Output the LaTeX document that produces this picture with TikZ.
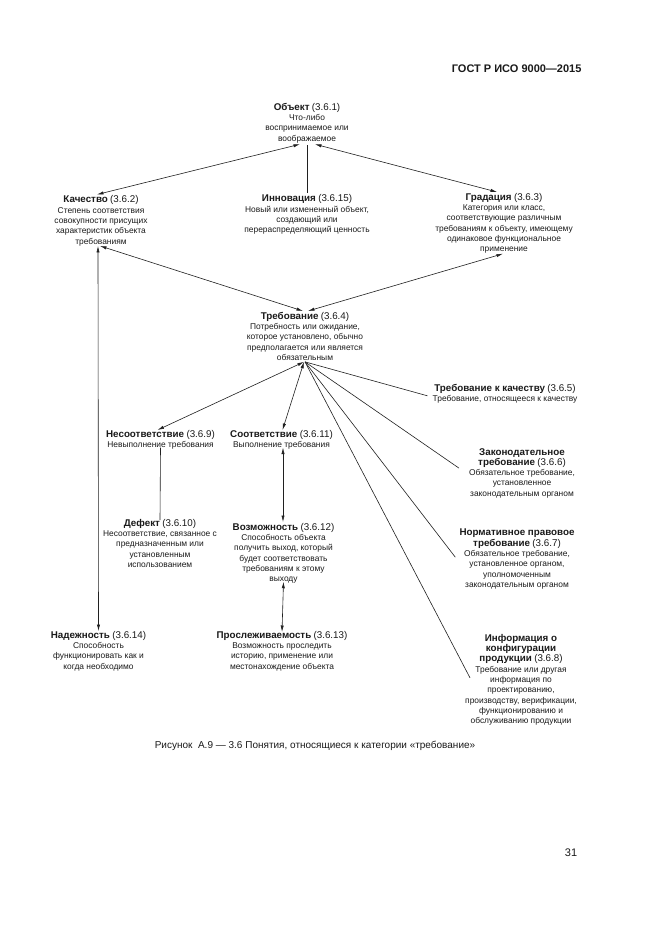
\documentclass[tikz,border=0pt]{standalone}
\usepackage{fontspec}
\setmainfont{Liberation Sans}
\usetikzlibrary{arrows.meta}
\definecolor{txt}{HTML}{1A1A1A}
\definecolor{ln}{HTML}{202020}
\newcommand\ttl[1]{{\fontsize{9.8}{11}\selectfont\bfseries #1}}
\newcommand\nm[1]{{\fontsize{9.8}{11}\selectfont (#1)}}
\tikzset{
  concept/.style={align=center, anchor=north, inner sep=2pt, text=txt,
    font=\fontsize{8.4}{10.3}\selectfont},
  conn/.style={draw=ln, line width=0.6pt},
  dbl/.style={conn, {Latex[length=6.5pt,width=3.2pt]}-{Latex[length=6.5pt,width=3.2pt]}},
}
\begin{document}
\begin{tikzpicture}[x=1pt,y=-1pt]
\useasboundingbox[fill=white] (0,0) rectangle (661,935);

\node[anchor=base east, text=txt, font=\fontsize{11}{13}\selectfont\bfseries] (hdr) at (585,72) {ГОСТ Р ИСО 9000---2015};

\node[concept] (obj) at (307,101) {\ttl{Объект} \nm{3.6.1}\\Что-либо\\воспринимаемое или\\воображаемое};
\node[concept] (kach) at (101,193.5) {\ttl{Качество} \nm{3.6.2}\\Степень соответствия\\совокупности присущих\\характеристик объекта\\требованиям};
\node[concept] (innov) at (307,192.5) {\ttl{Инновация} \nm{3.6.15}\\Новый или измененный объект,\\создающий или\\перераспределяющий ценность};
\node[concept] (grad) at (504,191) {\ttl{Градация} \nm{3.6.3}\\Категория или класс,\\соответствующие различным\\требованиям к объекту, имеющему\\одинаковое функциональное\\применение};
\node[concept] (treb) at (305,310) {\ttl{Требование} \nm{3.6.4}\\Потребность или ожидание,\\которое установлено, обычно\\предполагается или является\\обязательным};
\node[concept] (kk) at (505,382) {\ttl{Требование к качеству} \nm{3.6.5}\\Требование, относящееся к качеству};
\node[concept] (zak) at (522,446) {\ttl{Законодательное}\\\ttl{требование} \nm{3.6.6}\\Обязательное требование,\\установленное\\законодательным органом};
\node[concept] (norm) at (517,527) {\ttl{Нормативное правовое}\\\ttl{требование} \nm{3.6.7}\\Обязательное требование,\\установленное органом,\\уполномоченным\\законодательным органом};
\node[concept] (info) at (521,632) {\ttl{Информация о}\\\ttl{конфигурации}\\\ttl{продукции} \nm{3.6.8}\\Требование или другая\\информация по\\проектированию,\\производству, верификации,\\функционированию и\\обслуживанию продукции};
\node[concept] (nesoot) at (160.5,428) {\ttl{Несоответствие} \nm{3.6.9}\\Невыполнение требования};
\node[concept] (soot) at (281.5,428) {\ttl{Соответствие} \nm{3.6.11}\\Выполнение требования};
\node[concept] (defect) at (160,517) {\ttl{Дефект} \nm{3.6.10}\\Несоответствие, связанное с\\предназначенным или\\установленным\\использованием};
\node[concept] (voz) at (283.5,521) {\ttl{Возможность} \nm{3.6.12}\\Способность объекта\\получить выход, который\\будет соответствовать\\требованиям к этому\\выходу};
\node[concept] (nad) at (98.5,629) {\ttl{Надежность} \nm{3.6.14}\\Способность\\функционировать как и\\когда необходимо};
\node[concept] (prosl) at (282,629) {\ttl{Прослеживаемость} \nm{3.6.13}\\Возможность проследить\\историю, применение или\\местонахождение объекта};

\node[anchor=base, text=txt, font=\fontsize{10}{12}\selectfont] (cap) at (315,748) {Рисунок\ \ А.9 --- 3.6 Понятия, относящиеся к категории «требование»};
\node[anchor=base, text=txt, font=\fontsize{11}{12}\selectfont] (pg) at (571,856) {31};

% connectors
\draw[dbl] ([xshift=-7pt,yshift=1pt]obj.south) -- ([xshift=-4pt,yshift=-1pt]kach.north);
\draw[conn] (obj.south) -- (innov.north);
\draw[dbl] ([xshift=8pt,yshift=1pt]obj.south) -- ([xshift=-7pt,yshift=-1pt]grad.north);
\draw[dbl] ([xshift=-1pt,yshift=2pt]kach.south) -- ([xshift=-2pt,yshift=-1pt]treb.north);
\draw[dbl] ([xshift=-1pt,yshift=2pt]grad.south) -- ([xshift=3pt,yshift=-1pt]treb.north);
\draw[dbl] ([xshift=-3pt,yshift=2pt]kach.south) -- ([yshift=-2pt]nad.north);
\draw[dbl] ([xshift=-1pt,yshift=1pt]treb.south) -- ([xshift=-3pt,yshift=-2pt]nesoot.north);
\draw[dbl] ([xshift=-1pt,yshift=1pt]treb.south) -- ([xshift=1pt,yshift=-2pt]soot.north);
\draw[conn] ([yshift=1pt]treb.south) -- ([xshift=-3pt,yshift=-2pt]kk.west);
\draw[conn] ([yshift=1pt]treb.south) -- ([xshift=-8pt,yshift=5pt]zak.west);
\draw[conn] ([yshift=1pt]treb.south) -- ([xshift=-2pt,yshift=2pt]norm.west);
\draw[conn] ([yshift=1pt]treb.south) -- ([xshift=7pt,yshift=2pt]info.west);
\draw[conn] ([yshift=4pt]nesoot.south) -- ([yshift=-3pt]defect.north);
\draw[dbl] ([xshift=1.5pt,yshift=4pt]soot.south) -- ([xshift=-0.5pt,yshift=-1pt]voz.north);
\draw[dbl] ([yshift=4pt]voz.south) -- ([yshift=-3pt]prosl.north);
\end{tikzpicture}
\end{document}
